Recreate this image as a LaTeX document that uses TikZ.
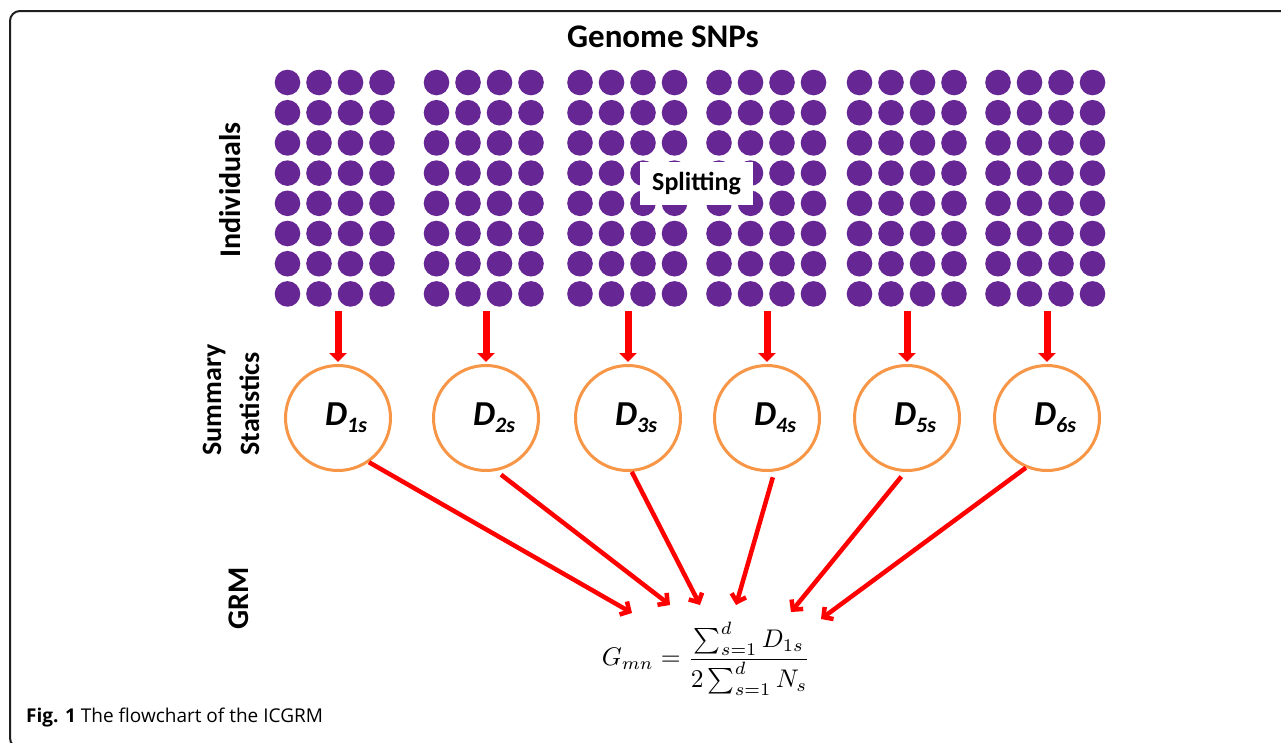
\documentclass[tikz,border=0pt]{standalone}
\usepackage{fontspec}
\setmainfont{Carlito}
\newfontfamily\capfont{Open Sans}
\usetikzlibrary{arrows.meta}
\definecolor{dotpurple}{RGB}{102,38,148}
\definecolor{ringorange}{RGB}{247,150,70}
\definecolor{arrowred}{RGB}{255,0,0}
\definecolor{framegray}{RGB}{30,30,30}
\begin{document}
\begin{tikzpicture}[x=1pt,y=-1pt,
  snp/.style={fill=dotpurple,draw=none},
  stat/.style={circle,draw=ringorange,line width=3pt,minimum size=105pt,inner sep=0pt,fill=white},
  downarrow/.style={draw=arrowred,line width=7pt,-{Triangle[length=9pt,width=17pt]},shorten >=2pt},
  diagarrow/.style={draw=arrowred,line width=4.5pt,-{Straight Barb[length=7pt,width=15pt]}},
  rowlabel/.style={rotate=90,font=\fontsize{30}{34}\selectfont\bfseries,inner sep=0pt},
  splitbox/.style={fill=white,draw=none,minimum width=113pt,minimum height=43pt,inner sep=0pt,font=\fontsize{26}{30}\selectfont\bfseries},
  dlabel/.style={font=\fontsize{35}{38}\selectfont\bfseries\itshape}
]
\useasboundingbox (0,0) rectangle (1281,742);
\clip (0,0) rectangle (1281,742);
% frame
\draw[framegray,line width=2pt,rounded corners=10pt] (1300,11) -- (10,11) -- (10,748) -- (1300,748);

% title
\node[font=\fontsize{33}{36}\selectfont\bfseries,inner sep=0pt] (title) at (663,37) {Genome SNPs};

% SNP blocks
\foreach \bx [count=\b] in {287.5,436.5,580,719,859.5,998}{
  \foreach \c in {0,...,3}{
    \foreach \r in {0,...,7}{
      \fill[snp] (\bx+31.5*\c, 82.5+30.2*\r) circle (12.8);
    }
  }
}

\node[splitbox] (split) at (696.5,183.5) {Splitting};

% row labels
\node[rowlabel] (indiv) at (230,190) {Individuals};
\node[rotate=90,font=\fontsize{28}{38}\selectfont\bfseries,align=left,inner sep=0pt] (summ) at (231,400) {Summary\\Statistics};
\node[rowlabel] (grm) at (239,598) {GRM};

% block bottom coordinates
\foreach \x [count=\i] in {338,486,628,767,907,1047}{
  \coordinate (b\i) at (\x,311);
}

% summary statistic circles
\foreach \x [count=\i] in {338,486,628,767,907,1047}{
  \node[stat] (c\i) at (\x,418) {};
}
\foreach \i in {1,...,6}{
  \node[dlabel] (d\i) at ([xshift=8pt]c\i.center) {D\raisebox{-7pt}{\fontsize{22}{24}\selectfont\i s}};
}

\foreach \i in {1,...,6}{
  \draw[downarrow] (b\i) -- (c\i.north);
}

% formula
\node[inner sep=0pt] (gmn) at (706,659)
  {\scalebox{2.55}{$G_{mn} = \displaystyle\frac{\sum_{s=1}^{d} D_{1s}}{2\sum_{s=1}^{d} N_s}$}};

\coordinate (t1) at (632,613);
\coordinate (t2) at (670,605);
\coordinate (t3) at (700,605);
\coordinate (t4) at (736,605);
\coordinate (t5) at (791,612);
\coordinate (t6) at (821,619);

\draw[diagarrow] (c1.-55) -- (t1);
\draw[diagarrow,shorten <=6pt] (c2.-79) -- (t2);
\draw[diagarrow] (c3.-86) -- (t3);
\draw[diagarrow,shorten <=6pt] (c4.-82) -- (t4);
\draw[diagarrow,shorten <=6pt] (c5.-92) -- (t5);
\draw[diagarrow] (c6.-113) -- (t6);

% caption
\node[anchor=base west,inner sep=0pt,font=\capfont\fontsize{19}{22}\selectfont] (cap) at (26,722)
  {\textbf{Fig. 1} The flowchart of the ICGRM};
\end{tikzpicture}
\end{document}
